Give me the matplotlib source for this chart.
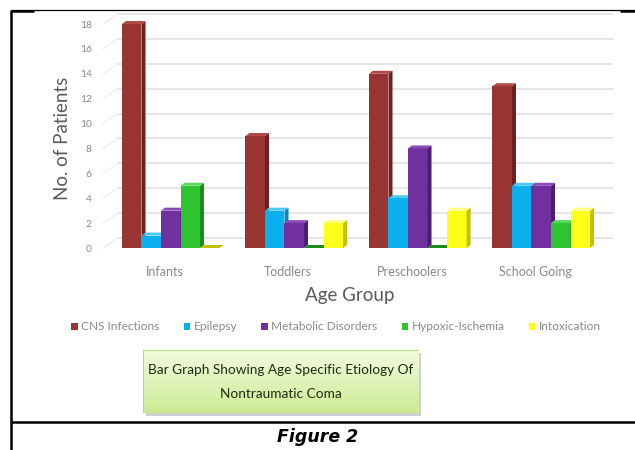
import numpy as np
import matplotlib
matplotlib.use("Agg")
import matplotlib.pyplot as plt
from matplotlib.patches import Rectangle, Polygon, Patch
from matplotlib.lines import Line2D

# ---- data ----
age_groups = ["Infants", "Toddlers", "Preschoolers", "School Going"]
series_names = ["CNS Infections", "Epilepsy", "Metabolic Disorders",
                "Hypoxic-Ischemia", "Intoxication"]
cns_infections = [18, 9, 14, 13]
epilepsy = [1, 3, 4, 5]
metabolic_disorders = [3, 2, 8, 5]
hypoxic_ischemia = [5, 0, 0, 2]
intoxication = [0, 2, 3, 3]
y_ticks = [0, 2, 4, 6, 8, 10, 12, 14, 16, 18]

series_values = [cns_infections, epilepsy, metabolic_disorders,
                 hypoxic_ischemia, intoxication]
# front, side, top shades for each series
front_cols = ["#983533", "#0AAFEE", "#7030A0", "#2FC42F", "#FFFF1A"]
side_cols = ["#6A2220", "#0A86B8", "#4B1D70", "#1C8A1C", "#C2C200"]
top_cols = ["#AE4A47", "#4CC8F4", "#8A4BB8", "#58D858", "#FFFF80"]

W, H = 635, 450
fig = plt.figure(figsize=(W / 100, H / 100), dpi=100)
fig.patch.set_facecolor("white")

def fx(x):
    return x / W

def fy(y):
    return 1 - y / H

# plot area (front plane of the 3-D box)
left_px, right_px, base_px, top_px = 103, 597, 248, 24
ax = fig.add_axes([fx(left_px), fy(base_px), (right_px - left_px) / W,
                   (base_px - top_px) / H])
ax.set_xlim(-0.5, 3.5)
ax.set_ylim(0, 18)
for s in ax.spines.values():
    s.set_visible(False)
ax.set_facecolor("none")

xpp = 4.0 / (right_px - left_px)   # data units per pixel
ypp = 18.0 / (base_px - top_px)

# back wall gridlines and side wall diagonals
wall_dx, wall_dy = 15, 10
grid_col = "#E3E3E3"
for v in y_ticks:
    ax.plot([-0.5 + wall_dx * xpp, 3.5 + wall_dx * xpp],
            [v + wall_dy * ypp, v + wall_dy * ypp],
            color=grid_col, lw=1.3, clip_on=False, zorder=0.5)
    ax.plot([-0.5, -0.5 + wall_dx * xpp], [v, v + wall_dy * ypp],
            color="#F0F0F0", lw=1.0, clip_on=False, zorder=0.5)

# 3-D columns
bar_w = 0.158
shift = 6 * xpp
dx, dy = 4 * xpp, 3 * ypp
z = 2
for c in range(len(age_groups)):
    for i, vals in enumerate(series_values):
        h = vals[c]
        xl = c + (i - 2) * bar_w - bar_w / 2 + shift
        ax.bar([xl], [h], width=bar_w, align="edge",
               color=front_cols[i], edgecolor="none",
               zorder=z, clip_on=False)
        side = Polygon([(xl + bar_w, 0), (xl + bar_w, h),
                        (xl + bar_w + dx, h + dy), (xl + bar_w + dx, dy)],
                       closed=True, facecolor=side_cols[i],
                       edgecolor="none", zorder=z, clip_on=False)
        top = Polygon([(xl, h), (xl + bar_w, h), (xl + bar_w + dx, h + dy),
                       (xl + dx, h + dy)], closed=True,
                      facecolor=top_cols[i] if h > 0 else side_cols[i],
                      edgecolor="none", zorder=z, clip_on=False)
        ax.add_patch(side)
        ax.add_patch(top)
        z += 1

tick_col = "#8A8A8A"
ax.set_yticks(y_ticks)
ax.set_yticklabels([str(t) for t in y_ticks], fontsize=7.5, color=tick_col,
                   family="Lato")
ax.set_xticks(range(len(age_groups)))
ax.set_xticklabels(age_groups, fontsize=9, color=tick_col, family="Lato")
ax.tick_params(axis="y", length=0, pad=8)
ax.tick_params(axis="x", length=0, pad=13)

# axis titles
fig.text(fx(62), fy(138), "No. of Patients", rotation=90, ha="center",
         va="center", fontsize=13.5, color="#5A5A5A", family="Lato")
fig.text(fx(350), fy(296), "Age Group", ha="center", va="center",
         fontsize=13.5, color="#5A5A5A", family="Lato")

# legend
handles = [Patch(facecolor=front_cols[i], edgecolor="none")
           for i in range(len(series_names))]
leg = fig.legend(handles, series_names, loc="center",
                 bbox_to_anchor=(fx(336), fy(327)), ncol=5, frameon=False,
                 handlelength=0.55, handleheight=0.55,
                 handletextpad=0.3, columnspacing=2.0,
                 prop={"family": "Lato", "size": 8.6})
for t in leg.get_texts():
    t.set_color("#8A8A8A")

# caption box with green gradient and soft shadow
bx0, by0, bx1, by1 = 143, 350, 418, 413
shadow = Rectangle((fx(bx0 + 3), fy(by1 + 3)), (bx1 - bx0) / W,
                   (by1 - by0) / H, transform=fig.transFigure,
                   facecolor="#CFCFCF", edgecolor="none", zorder=-1)
fig.add_artist(shadow)
box_ax = fig.add_axes([fx(bx0), fy(by1), (bx1 - bx0) / W, (by1 - by0) / H])
box_ax.set_axis_off()
grad = np.linspace(0, 1, 64).reshape(-1, 1)
top_rgb = np.array([0.95, 0.99, 0.88])
bot_rgb = np.array([0.80, 0.92, 0.58])
img = top_rgb[None, None, :] * (1 - grad[:, :, None]) + \
    bot_rgb[None, None, :] * grad[:, :, None]
box_ax.imshow(img, aspect="auto", extent=[0, 1, 0, 1], origin="upper")
box_ax.set_xlim(0, 1)
box_ax.set_ylim(0, 1)
box_ax.add_patch(Rectangle((0, 0), 1, 1, transform=box_ax.transAxes,
                           facecolor="none", edgecolor="#B7D48A", lw=0.8))
box_ax.text(0.5, 0.69, "Bar Graph Showing Age Specific Etiology Of",
            ha="center", va="center", fontsize=9.8, color="#1E2C14",
            family="Lato", transform=box_ax.transAxes)
box_ax.text(0.5, 0.30, "Nontraumatic Coma", ha="center", va="center",
            fontsize=9.8, color="#1E2C14", family="Lato",
            transform=box_ax.transAxes)

# table frame
def frame_line(x0, y0, x1, y1, lw):
    fig.add_artist(Line2D([fx(x0), fx(x1)], [fy(y0), fy(y1)],
                          transform=fig.transFigure, color="black", lw=lw,
                          solid_capstyle="butt"))

frame_line(11, 10, 11, 450, 1.8)
frame_line(11, 10, 635, 10, 0.9)
frame_line(11, 11, 34, 11, 1.8)
frame_line(620, 11, 635, 11, 1.8)
frame_line(11, 422, 635, 422, 1.8)

fig.text(fx(318), fy(437), "Figure 2", ha="center", va="center",
         fontsize=12.5, fontweight="bold", fontstyle="italic",
         family="DejaVu Sans", color="black")

fig.savefig("out.png", dpi=100)
